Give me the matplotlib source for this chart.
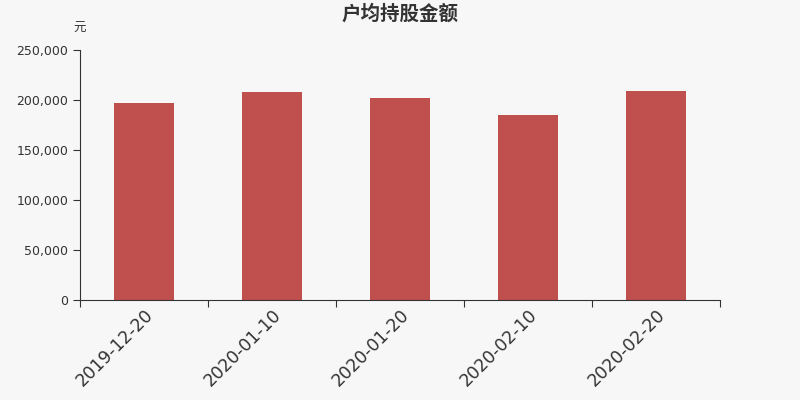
import matplotlib.pyplot as plt
import numpy as np
from matplotlib.ticker import FuncFormatter, FixedLocator

plt.rcParams['font.family'] = ['DejaVu Sans', 'Noto Sans CJK SC']

# data
dates = ['2019-12-20', '2020-01-10', '2020-01-20', '2020-02-10', '2020-02-20']
amount = [197000, 208000, 201800, 185500, 208600]

bg = '#f7f7f7'
fig = plt.figure(figsize=(8, 4), dpi=100, facecolor=bg)
ax = fig.add_axes([0.1, 0.25, 0.8, 0.625], facecolor=bg)

x = np.arange(len(dates))
ax.bar(x, amount, width=0.47, color='#c0504d', zorder=2)

ax.set_xlim(-0.5, len(dates) - 0.5)
ax.set_ylim(0, 250000)
ax.set_yticks(np.arange(0, 250001, 50000))
ax.yaxis.set_major_formatter(FuncFormatter(lambda v, p: f'{int(v):,}'))

# category boundaries get the tick marks, labels sit under the bars
ax.xaxis.set_major_locator(FixedLocator(np.arange(-0.5, len(dates), 1)))
ax.xaxis.set_major_formatter(FuncFormatter(lambda v, p: ''))
ax.set_xticks(x, minor=True)
ax.set_xticklabels(dates, minor=True, rotation=45, ha='right',
                   rotation_mode='anchor', fontsize=12.5, color='#333333')
ax.tick_params(axis='x', which='minor', length=0, pad=4)
ax.tick_params(axis='x', which='major', length=5, color='#333333')
ax.tick_params(axis='y', length=5, color='#333333', labelsize=9, labelcolor='#333333')

for s in ['top', 'right']:
    ax.spines[s].set_visible(False)
for s in ['left', 'bottom']:
    ax.spines[s].set_color('#333333')

fig.text(0.5, 0.965, '户均持股金额', ha='center', va='center', fontsize=14,
         fontweight='bold', color='#333333', family=['Noto Sans CJK SC'])
fig.text(0.1, 0.93, '元', ha='center', va='center', fontsize=9, color='#333333',
         family=['Noto Sans CJK SC'])

plt.savefig('out.png', dpi=100, facecolor=bg)
